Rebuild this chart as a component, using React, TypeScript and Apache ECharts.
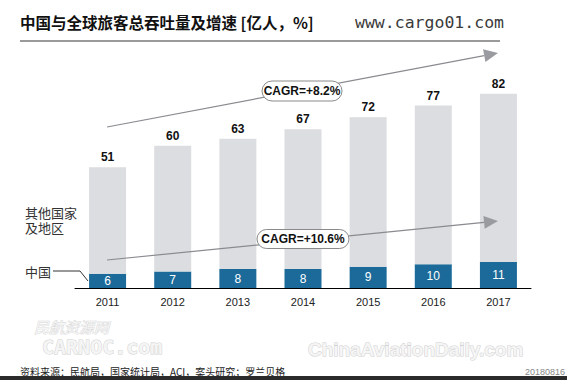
import React, { useEffect, useRef } from "react";
import * as echarts from "echarts";

const years = ["2011", "2012", "2013", "2014", "2015", "2016", "2017"];
const totals = [51, 60, 63, 67, 72, 77, 82];
const china = [6, 7, 8, 8, 9, 10, 11];
const others = totals.map((t, i) => t - china[i]);

const title = "中国与全球旅客总吞吐量及增速 [亿人，%]";
const site = "www.cargo01.com";
const cagrTotal = "CAGR=+8.2%";
const cagrChina = "CAGR=+10.6%";
const source = "资料来源：民航局，国家统计局，ACI，案头研究；罗兰贝格";
const dateStamp = "20180816";

function arrow(x1: number, y1: number, x2: number, y2: number, color: string) {
  const dx = x2 - x1;
  const dy = y2 - y1;
  const len = Math.sqrt(dx * dx + dy * dy);
  const ux = dx / len;
  const uy = dy / len;
  const hl = 14;
  const hw = 6.5;
  const bx = x2 - hl * ux;
  const by = y2 - hl * uy;
  const nx = -uy;
  const ny = ux;
  return [
    {
      type: "line",
      shape: { x1, y1, x2: bx, y2: by },
      style: { stroke: color, lineWidth: 1.2 },
      z: 10,
    },
    {
      type: "polygon",
      shape: {
        points: [
          [x2, y2],
          [bx + hw * nx, by + hw * ny],
          [bx - hw * nx, by - hw * ny],
        ],
      },
      style: { fill: "#9a9ba0" },
      z: 10,
    },
  ];
}

function pill(cx: number, cy: number, w: number, h: number, text: string) {
  return [
    {
      type: "rect",
      shape: { x: cx - w / 2, y: cy - h / 2, width: w, height: h, r: h / 2 },
      style: { fill: "#fff", stroke: "#8a8a8a", lineWidth: 1 },
      z: 20,
    },
    {
      type: "text",
      x: cx,
      y: cy,
      style: {
        text,
        fill: "#111",
        font: "bold 12px 'Liberation Sans', Arial, sans-serif",
        textAlign: "center",
        textVerticalAlign: "middle",
      },
      z: 21,
    },
  ];
}

export default function App() {
  const ref = useRef<HTMLDivElement>(null);
  useEffect(() => {
    document.body.style.margin = "0";
    if (!ref.current) return;
    const chart = echarts.init(ref.current, undefined, { renderer: "svg" });
    const sans = "'Liberation Sans', Arial, sans-serif";
    const cjk = "'Noto Sans CJK SC', sans-serif";
    chart.setOption({
      animation: false,
      backgroundColor: "#fff",
      grid: { left: 75, right: 36, top: 51, bottom: 92 },
      xAxis: {
        type: "category",
        data: years,
        axisLine: { lineStyle: { color: "#000", width: 1 } },
        axisTick: { show: false },
        axisLabel: { color: "#222", fontSize: 11, fontFamily: sans, margin: 8 },
      },
      yAxis: { type: "value", min: 0, max: 100, show: false, splitLine: { show: false } },
      series: [
        {
          type: "bar",
          name: "中国",
          stack: "t",
          data: china,
          barWidth: 37,
          itemStyle: { color: "#1b6a99" },
          label: {
            show: true,
            position: "inside",
            color: "#fff",
            fontSize: 12,
            fontFamily: sans,
          },
        },
        {
          type: "bar",
          name: "其他国家及地区",
          stack: "t",
          data: others,
          barWidth: 37,
          itemStyle: { color: "#dcdde0" },
          label: {
            show: true,
            position: "top",
            distance: 4,
            color: "#111",
            fontSize: 12,
            fontWeight: "bold",
            fontFamily: sans,
            formatter: (p: any) => String(totals[p.dataIndex]),
          },
        },
      ],
      graphic: [
        {
          type: "text",
          x: 20,
          y: 22,
          style: {
            text: title,
            fill: "#111",
            font: `bold 15.5px ${cjk}`,
            textVerticalAlign: "middle",
          },
        },
        {
          type: "text",
          x: 355,
          y: 22,
          style: {
            text: site,
            fill: "#3a3a3a",
            font: "16.5px 'DejaVu Sans Mono', monospace",
            textVerticalAlign: "middle",
          },
        },
        {
          type: "line",
          shape: { x1: 20, y1: 41, x2: 500, y2: 41 },
          style: { stroke: "#9a9a9a", lineWidth: 2 },
        },
        {
          type: "text",
          x: 25,
          y: 212,
          style: {
            text: "其他国家",
            fill: "#333",
            font: `13px ${cjk}`,
            textVerticalAlign: "middle",
          },
        },
        {
          type: "text",
          x: 25,
          y: 227,
          style: {
            text: "及地区",
            fill: "#333",
            font: `13px ${cjk}`,
            textVerticalAlign: "middle",
          },
        },
        {
          type: "text",
          x: 25,
          y: 271,
          style: {
            text: "中国",
            fill: "#333",
            font: `13px ${cjk}`,
            textVerticalAlign: "middle",
          },
        },
        {
          type: "polyline",
          shape: { points: [[53, 271], [80, 271], [88, 281]] },
          style: { stroke: "#333", lineWidth: 1, fill: "none" },
          z: 10,
        },
        ...arrow(107, 127, 498, 53, "#8a8b90"),
        ...arrow(107, 260, 498, 221, "#8a8b90"),
        ...pill(302, 91, 80, 20, cagrTotal),
        ...pill(303, 239, 92, 19, cagrChina),
        {
          type: "text",
          x: 34,
          y: 326,
          style: {
            text: "民航资源网",
            fill: "#f5f5f5",
            stroke: "#d6d6d6",
            lineWidth: 0.8,
            font: `italic 15px ${cjk}`,
            textVerticalAlign: "middle",
          },
        },
        {
          type: "text",
          x: 42,
          y: 347,
          style: {
            text: "CARNOC.com",
            fill: "#f5f5f5",
            stroke: "#d0d0d0",
            lineWidth: 1,
            font: "bold 20px 'DejaVu Sans Mono', monospace",
            textVerticalAlign: "middle",
          },
        },
        {
          type: "text",
          x: 308,
          y: 349,
          style: {
            text: "ChinaAviationDaily.com",
            fill: "#f5f5f5",
            stroke: "#d0d0d0",
            lineWidth: 1,
            font: "bold 19px 'Liberation Sans Narrow', 'Liberation Sans', sans-serif",
            textVerticalAlign: "middle",
          },
        },
        {
          type: "text",
          x: 20,
          y: 371,
          style: {
            text: source,
            fill: "#222",
            font: `10px ${cjk}`,
            textVerticalAlign: "middle",
          },
        },
        {
          type: "text",
          x: 565,
          y: 372,
          style: {
            text: dateStamp,
            fill: "#888",
            font: `9px ${sans}`,
            textAlign: "right",
            textVerticalAlign: "middle",
          },
        },
        {
          type: "rect",
          shape: { x: 0, y: 376, width: 567, height: 4 },
          style: { fill: "#2b2b2b" },
        },
      ],
    });
    return () => chart.dispose();
  }, []);
  return <div ref={ref} style={{ width: 567, height: 380 }} />;
}
